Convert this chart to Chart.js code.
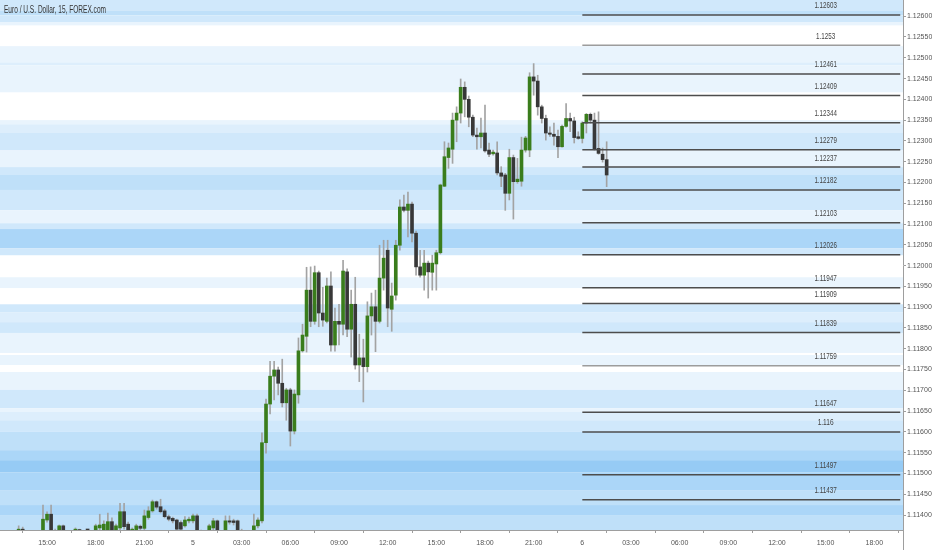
<!DOCTYPE html>
<html>
<head>
<meta charset="utf-8">
<script src="https://cdn.jsdelivr.net/npm/chart.js@4.4.1/dist/chart.umd.min.js"></script>
<style>
  html, body { margin: 0; padding: 0; background: #fff; }
  #wrap { width: 932px; height: 550px; }
</style>
</head>
<body>
<div id="wrap"><canvas id="chart" width="932" height="550"></canvas></div>
<script>
// EUR/USD 15 min candles, first one at 13:15 on day 4 (hours counted from day 4 00:00)
const firstHour = 13.25;
const stepHours = 0.25;

const opens = [
  1.11352, 1.11366, 1.11340, 1.11347, 1.11340, 1.11349, 1.11349, 1.11388, 1.11402, 1.11357,
  1.11354, 1.11374, 1.11352, 1.11345, 1.11349, 1.11365, 1.11352, 1.11347, 1.11345, 1.11357,
  1.11369, 1.11362, 1.11362, 1.11384, 1.11362, 1.11369, 1.11408, 1.11378, 1.11357, 1.11357,
  1.11373, 1.11368, 1.11394, 1.11410, 1.11432, 1.11420, 1.11410, 1.11396, 1.11392, 1.11388,
  1.11382, 1.11374, 1.11386, 1.11386, 1.11398, 1.11357, 1.11352, 1.11357, 1.11369, 1.11386,
  1.11359, 1.11357, 1.11386, 1.11386, 1.11386, 1.11359, 1.11354, 1.11349, 1.11357, 1.11374,
  1.11386, 1.11574, 1.11667, 1.11734, 1.11749, 1.11717, 1.11670, 1.11701, 1.11602, 1.11689,
  1.11795, 1.11830, 1.11941, 1.11866, 1.11983, 1.11886, 1.11866, 1.11951, 1.11809, 1.11866,
  1.11859, 1.11985, 1.11847, 1.11907, 1.11761, 1.11778, 1.11757, 1.11879, 1.11901, 1.11866,
  1.11970, 1.12037, 1.11895, 1.11929, 1.12049, 1.12141, 1.12133, 1.12148, 1.12078, 1.11997,
  1.11977, 1.12006, 1.11984, 1.12004, 1.12031, 1.12191, 1.12260, 1.12280, 1.12350, 1.12367,
  1.12429, 1.12400, 1.12357, 1.12314, 1.12310, 1.12319, 1.12278, 1.12269, 1.12271, 1.12223,
  1.12218, 1.12174, 1.12260, 1.12202, 1.12203, 1.12278, 1.12278, 1.12454, 1.12444, 1.12382,
  1.12354, 1.12319, 1.12316, 1.12311, 1.12286, 1.12335, 1.12354, 1.12348, 1.12310, 1.12306,
  1.12343, 1.12364, 1.12350, 1.12282, 1.12268, 1.12255
];
const highs = [
  1.11374, 1.11371, 1.11352, 1.11352, 1.11354, 1.11359, 1.11424, 1.11408, 1.11424, 1.11366,
  1.11376, 1.11376, 1.11357, 1.11352, 1.11369, 1.11366, 1.11357, 1.11354, 1.11357, 1.11378,
  1.11402, 1.11386, 1.11405, 1.11393, 1.11378, 1.11428, 1.11428, 1.11383, 1.11369, 1.11378,
  1.11376, 1.11412, 1.11420, 1.11436, 1.11434, 1.11438, 1.11414, 1.11400, 1.11395, 1.11390,
  1.11386, 1.11396, 1.11395, 1.11402, 1.11402, 1.11364, 1.11357, 1.11378, 1.11392, 1.11388,
  1.11362, 1.11398, 1.11398, 1.11390, 1.11388, 1.11366, 1.11359, 1.11357, 1.11402, 1.11393,
  1.11598, 1.11679, 1.11770, 1.11770, 1.11756, 1.11775, 1.11705, 1.11705, 1.11701, 1.11826,
  1.11859, 1.11996, 1.11997, 1.11999, 1.11987, 1.11948, 1.11970, 1.11985, 1.11898, 1.11907,
  1.12013, 1.11992, 1.11941, 1.11972, 1.11835, 1.11823, 1.11913, 1.11934, 1.11941, 1.12049,
  1.12061, 1.12061, 1.11958, 1.12061, 1.12158, 1.12170, 1.12177, 1.12153, 1.12083, 1.12037,
  1.12037, 1.12011, 1.12025, 1.12037, 1.12196, 1.12298, 1.12295, 1.12367, 1.12382, 1.12449,
  1.12442, 1.12408, 1.12362, 1.12331, 1.12355, 1.12386, 1.12295, 1.12278, 1.12298, 1.12238,
  1.12222, 1.12280, 1.12266, 1.12258, 1.12309, 1.12311, 1.12464, 1.12486, 1.12458, 1.12386,
  1.12362, 1.12334, 1.12343, 1.12326, 1.12338, 1.12390, 1.12367, 1.12357, 1.12322, 1.12346,
  1.12366, 1.12367, 1.12367, 1.12370, 1.12283, 1.12298
];
const lows = [
  1.11345, 1.11340, 1.11335, 1.11335, 1.11337, 1.11342, 1.11345, 1.11383, 1.11347, 1.11340,
  1.11347, 1.11345, 1.11340, 1.11337, 1.11345, 1.11347, 1.11342, 1.11340, 1.11342, 1.11352,
  1.11359, 1.11357, 1.11357, 1.11354, 1.11357, 1.11364, 1.11366, 1.11352, 1.11352, 1.11352,
  1.11362, 1.11362, 1.11390, 1.11407, 1.11414, 1.11405, 1.11393, 1.11386, 1.11381, 1.11362,
  1.11362, 1.11371, 1.11381, 1.11381, 1.11354, 1.11347, 1.11342, 1.11352, 1.11364, 1.11357,
  1.11345, 1.11352, 1.11378, 1.11376, 1.11354, 1.11349, 1.11345, 1.11342, 1.11352, 1.11369,
  1.11381, 1.11549, 1.11643, 1.11677, 1.11689, 1.11660, 1.11628, 1.11566, 1.11595, 1.11669,
  1.11792, 1.11792, 1.11853, 1.11859, 1.11853, 1.11854, 1.11862, 1.11794, 1.11794, 1.11809,
  1.11833, 1.11829, 1.11780, 1.11751, 1.11721, 1.11672, 1.11744, 1.11833, 1.11793, 1.11862,
  1.11941, 1.11853, 1.11842, 1.11917, 1.12037, 1.12129, 1.12069, 1.12057, 1.11977, 1.11972,
  1.11941, 1.11922, 1.11941, 1.11941, 1.12028, 1.12190, 1.12234, 1.12246, 1.12298, 1.12343,
  1.12358, 1.12334, 1.12310, 1.12280, 1.12283, 1.12273, 1.12262, 1.12266, 1.12218, 1.12190,
  1.12133, 1.12158, 1.12112, 1.12198, 1.12191, 1.12273, 1.12262, 1.12410, 1.12362, 1.12343,
  1.12302, 1.12311, 1.12290, 1.12260, 1.12285, 1.12333, 1.12322, 1.12295, 1.12304, 1.12295,
  1.12319, 1.12343, 1.12278, 1.12268, 1.12249, 1.12190
];
const closes = [
  1.11366, 1.11349, 1.11347, 1.11340, 1.11349, 1.11352, 1.11390, 1.11402, 1.11354, 1.11349,
  1.11374, 1.11352, 1.11345, 1.11349, 1.11366, 1.11352, 1.11347, 1.11345, 1.11354, 1.11374,
  1.11376, 1.11378, 1.11384, 1.11362, 1.11374, 1.11408, 1.11372, 1.11357, 1.11366, 1.11374,
  1.11368, 1.11398, 1.11410, 1.11432, 1.11419, 1.11408, 1.11396, 1.11390, 1.11386, 1.11366,
  1.11366, 1.11388, 1.11390, 1.11398, 1.11359, 1.11352, 1.11349, 1.11374, 1.11386, 1.11362,
  1.11352, 1.11386, 1.11383, 1.11382, 1.11359, 1.11354, 1.11349, 1.11354, 1.11374, 1.11388,
  1.11574, 1.11667, 1.11734, 1.11749, 1.11717, 1.11670, 1.11701, 1.11602, 1.11691, 1.11795,
  1.11833, 1.11941, 1.11866, 1.11983, 1.11886, 1.11869, 1.11951, 1.11809, 1.11866, 1.11859,
  1.11987, 1.11847, 1.11907, 1.11761, 1.11778, 1.11757, 1.11879, 1.11901, 1.11866, 1.11970,
  1.12018, 1.11898, 1.11927, 1.12049, 1.12141, 1.12133, 1.12148, 1.12078, 1.11997, 1.11977,
  1.12006, 1.11985, 1.12006, 1.12031, 1.12194, 1.12262, 1.12283, 1.12350, 1.12367, 1.12429,
  1.12400, 1.12357, 1.12314, 1.12310, 1.12319, 1.12276, 1.12268, 1.12273, 1.12223, 1.12215,
  1.12174, 1.12260, 1.12202, 1.12208, 1.12278, 1.12307, 1.12454, 1.12444, 1.12382, 1.12354,
  1.12319, 1.12316, 1.12311, 1.12286, 1.12335, 1.12354, 1.12348, 1.12308, 1.12306, 1.12343,
  1.12364, 1.12350, 1.12280, 1.12270, 1.12255, 1.12218
];

// horizontal levels drawn from day 6 00:00 to the right edge
const levels = [1.12603, 1.1253, 1.12461, 1.12409, 1.12344, 1.12279, 1.12237, 1.12182, 1.12103,
  1.12026, 1.11947, 1.11909, 1.11839, 1.11759, 1.11647, 1.116, 1.11497, 1.11437];
const faintLevels = [1.1253, 1.11759];

// background heat bands (price top, price bottom, shade 1..6)
const bandTop = [1.12639, 1.12614, 1.12602, 1.12586, 1.12528, 1.12489, 1.12482, 1.12350, 1.12340,
  1.12319, 1.12278, 1.12237, 1.12218, 1.12182, 1.12133, 1.12102, 1.12088, 1.12042, 1.11972,
  1.11907, 1.11888, 1.11864, 1.11838, 1.11785, 1.11744, 1.11701, 1.11657, 1.11648, 1.11628,
  1.11600, 1.11556, 1.11532, 1.11503, 1.11460, 1.11424, 1.11400];
const bandBottom = [1.12614, 1.12602, 1.12586, 1.12578, 1.12489, 1.12482, 1.12417, 1.12340, 1.12319,
  1.12278, 1.12237, 1.12218, 1.12182, 1.12133, 1.12102, 1.12088, 1.12042, 1.12025, 1.11946,
  1.11888, 1.11864, 1.11838, 1.11790, 1.11761, 1.11701, 1.11657, 1.11648, 1.11628, 1.11600,
  1.11556, 1.11532, 1.11503, 1.11460, 1.11424, 1.11400, 1.11364];
const bandShade = [3, 4, 3, 1, 1, 2, 1, 1, 2, 3, 1, 3, 4, 3, 1, 3, 5, 3, 1, 3, 2, 3, 1, 1, 1, 3,
  1, 2, 3, 4, 5, 6, 5, 4, 5, 4];

const xTickHours = [15, 18, 21, 24, 27, 30, 33, 36, 39, 42, 45, 48, 51, 54, 57, 60, 63, 66];
const xTickLabels = ['15:00', '18:00', '21:00', '5', '03:00', '06:00', '09:00', '12:00', '15:00',
  '18:00', '21:00', '6', '03:00', '06:00', '09:00', '12:00', '15:00', '18:00'];
const yTicks = [1.114, 1.1145, 1.115, 1.1155, 1.116, 1.1165, 1.117, 1.1175, 1.118, 1.1185, 1.119,
  1.1195, 1.12, 1.1205, 1.121, 1.1215, 1.122, 1.1225, 1.123, 1.1235, 1.124, 1.1245, 1.125,
  1.1255, 1.126];

const title = 'Euro / U.S. Dollar, 15, FOREX.com';

const shadeColors = ['#ffffff', '#e9f4fd', '#ddeefc', '#d0e8fb', '#bfe0f9', '#abd6f8', '#96cbf5'];
const upColor = '#3a7d1c';
const downColor = '#383838';
const wickColor = '#a3a3a3';
const font = "'Liberation Sans', Arial, sans-serif";

const xs = opens.map((o, i) => firstHour + i * stepHours);

// draw text squeezed to a given width, the original uses a narrow face
function narrowText(ctx, text, x, y, width, align) {
  const w = ctx.measureText(text).width;
  const k = Math.min(1, width / w);
  ctx.save();
  ctx.translate(x, y);
  ctx.scale(k, 1);
  ctx.textAlign = align;
  ctx.fillText(text, 0, 0);
  ctx.restore();
}

const bands = {
  id: 'bands',
  beforeDraw(chart) {
    const { ctx, chartArea: a, scales: { y } } = chart;
    ctx.save();
    bandTop.forEach((t, i) => {
      const y1 = Math.max(a.top, y.getPixelForValue(t));
      const y2 = Math.min(a.bottom, y.getPixelForValue(bandBottom[i]));
      ctx.fillStyle = shadeColors[bandShade[i]];
      ctx.fillRect(a.left, y1, a.right - a.left, y2 - y1);
    });
    ctx.restore();
  }
};

const labels = {
  id: 'labels',
  afterDraw(chart) {
    const { ctx, chartArea: a, scales: { x, y } } = chart;
    ctx.save();
    ctx.fillStyle = '#444';
    ctx.font = '9px ' + font;
    ctx.textBaseline = 'middle';
    levels.forEach(v => {
      const s = String(v);
      narrowText(ctx, s, x.getPixelForValue(63), y.getPixelForValue(v) - 9, s.length * 3.2, 'center');
    });
    ctx.fillStyle = '#333';
    ctx.font = '10px ' + font;
    narrowText(ctx, title, 4, 10, 102, 'left');
    // price axis line runs down to the bottom
    ctx.strokeStyle = '#9e9e9e';
    ctx.lineWidth = 1;
    ctx.beginPath();
    ctx.moveTo(Math.round(a.right) + 0.5, a.bottom);
    ctx.lineTo(Math.round(a.right) + 0.5, chart.height);
    ctx.stroke();
    ctx.restore();
  }
};

const levelSets = levels.map(v => ({
  type: 'line',
  data: [{ x: 48, y: v }, { x: 67.6, y: v }],
  borderColor: faintLevels.includes(v) ? '#9c9c9c' : '#4d4d4d',
  borderWidth: 1.5,
  pointRadius: 0,
  order: 0
}));

new Chart(document.getElementById('chart'), {
  type: 'bar',
  data: {
    datasets: [
      {
        data: xs.map((x, i) => ({ x, y: [opens[i], closes[i]] })),
        backgroundColor: closes.map((c, i) => c >= opens[i] ? upColor : downColor),
        barThickness: 3,
        minBarLength: 1,
        grouped: false,
        order: 1
      },
      {
        data: xs.map((x, i) => ({ x, y: [lows[i], highs[i]] })),
        backgroundColor: wickColor,
        barThickness: 1,
        grouped: false,
        order: 2
      },
      ...levelSets
    ]
  },
  options: {
    responsive: false,
    animation: false,
    devicePixelRatio: 1,
    layout: { padding: 0, autoPadding: false },
    plugins: { legend: { display: false }, tooltip: { enabled: false } },
    scales: {
      x: {
        type: 'linear',
        min: 12.10,
        max: 67.77,
        offset: false,
        grid: { drawOnChartArea: false, tickLength: 3, color: '#9e9e9e' },
        border: { color: '#9e9e9e' },
        ticks: {
          color: '#555',
          font: { family: font, size: 7 },
          padding: 6,
          maxRotation: 0,
          autoSkip: false,
          callback: (v, i) => xTickLabels[i]
        },
        afterBuildTicks: s => { s.ticks = xTickHours.map(v => ({ value: v })); },
        afterFit: s => { s.height = 20; s.paddingLeft = 0; s.paddingRight = 0; }
      },
      y: {
        type: 'linear',
        position: 'right',
        min: 1.11364,
        max: 1.12639,
        grid: { drawOnChartArea: false, tickLength: 3, color: '#9e9e9e' },
        border: { color: '#9e9e9e' },
        ticks: {
          color: '#555',
          font: { family: font, size: 7 },
          padding: 1,
          callback: v => v.toFixed(5)
        },
        afterBuildTicks: s => { s.ticks = yTicks.map(v => ({ value: v })); },
        afterFit: s => { s.width = 29; s.paddingTop = 0; s.paddingBottom = 0; }
      }
    }
  },
  plugins: [bands, labels]
});
</script>
</body>
</html>
